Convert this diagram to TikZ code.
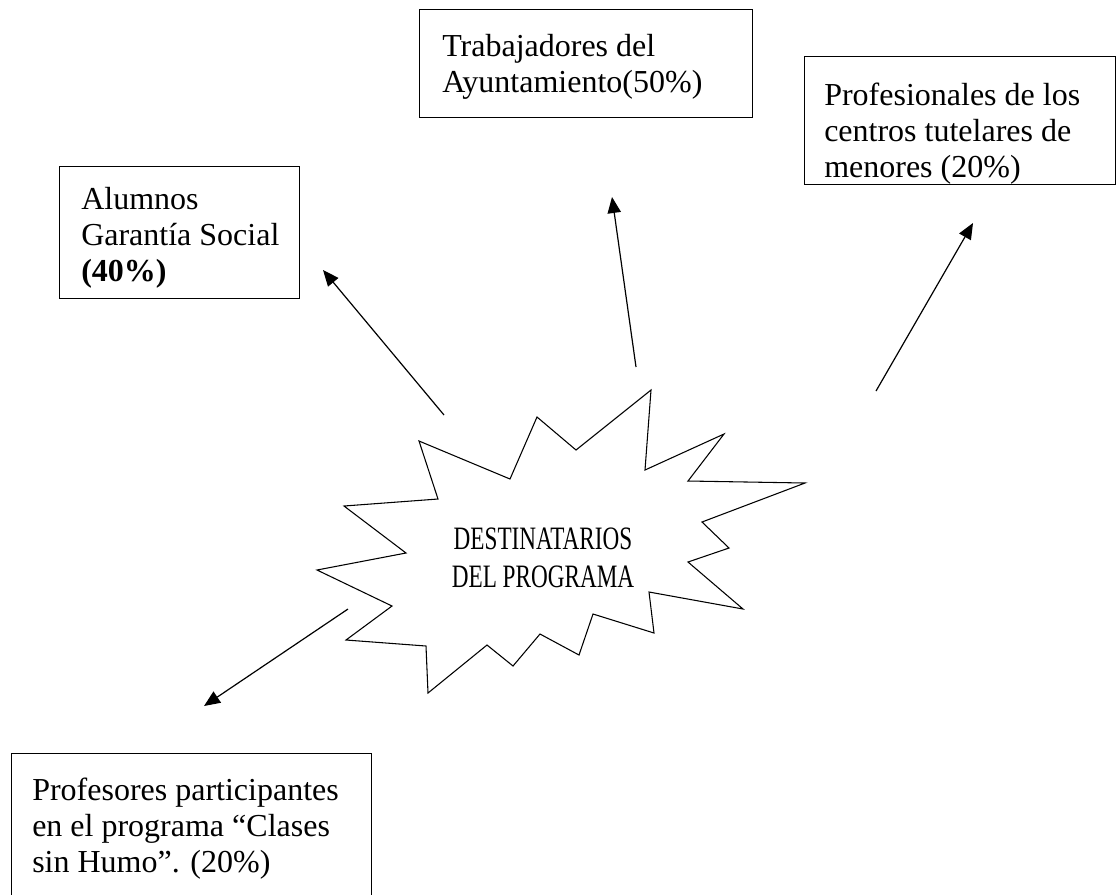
\documentclass[tikz,border=0pt]{standalone}
\usepackage{fontspec}
\setmainfont{Liberation Serif}
\newfontfamily\estrecha[FakeStretch=0.71]{Liberation Serif}
\usetikzlibrary{arrows.meta, calc, positioning}

\tikzset{
  caja/.style={draw, line width=0.8pt, rectangle, anchor=north west, inner sep=0pt},
  texto/.style={align=left, anchor=north west, inner sep=0pt, font=\fontsize{24}{27}\selectfont},
  lema/.style={align=center, inner sep=0pt, font=\estrecha\fontsize{24.5}{28.5}\selectfont},
  estrella/.style={draw, line width=0.8pt, line join=miter},
  flecha/.style={line width=0.9pt, -{Triangle[length=12pt, width=10pt]}}
}

\begin{document}
\begin{tikzpicture}[x=0.75pt, y=-0.75pt]
\useasboundingbox (0,0) rectangle (1119,894);
\clip (0,0) rectangle (1119,894);

% cajas de destinatarios
\node[caja, minimum width=180pt, minimum height=99pt] (alumnos) at (59,166) {};
\node[caja, minimum width=249.75pt, minimum height=81pt] (trabajadores) at (419,9) {};
\node[caja, minimum width=233.25pt, minimum height=96pt] (tutelares) at (804,56) {};
\node[caja, minimum width=270pt, minimum height=130pt] (profesores) at (11,753) {};

% textos de las cajas
\node[texto] (alumnostxt) at ($(alumnos.north west)+(22,21)$)
  {Alumnos\\Garantía Social\\\textbf{(40\%)}};
\node[texto] (trabajadorestxt) at ($(trabajadores.north west)+(23,25)$)
  {Trabajadores del\\Ayuntamiento(50\%)};
\node[texto] (tutelarestxt) at ($(tutelares.north west)+(20,27)$)
  {Profesionales de los\\centros tutelares de\\menores (20\%)};
\node[texto] (profesorestxt) at ($(profesores.north west)+(21,25)$)
  {Profesores participantes\\en el programa “Clases\\sin Humo”. (20\%)};

% explosion central
\draw[estrella] (419,441) -- (510,479) -- (537,417) -- (576,450) -- (651,390)
  -- (645,470) -- (724,434) -- (688,481) -- (805,483) -- (702,522)
  -- (729,548) -- (688,562) -- (743,609) -- (649,592) -- (654,633)
  -- (593,614) -- (579,655) -- (540,634) -- (513,666) -- (487,645)
  -- (428,693) -- (426,646) -- (346,640) -- (392,606) -- (317,570)
  -- (406,553) -- (344,506) -- (438,499) -- cycle;
\node[lema] (programa) at (543,558) {DESTINATARIOS\\DEL PROGRAMA};

% flechas hacia cada grupo
\coordinate (s1) at (444,415);
\coordinate (s2) at (636,367);
\coordinate (s3) at (876,391);
\coordinate (s4) at (348,609);
\coordinate (p1) at (323,270);
\coordinate (p2) at (612,197);
\coordinate (p3) at (973,223);
\coordinate (p4) at (204,706);
\draw[flecha] (s1) -- (p1);
\draw[flecha] (s2) -- (p2);
\draw[flecha] (s3) -- (p3);
\draw[flecha] (s4) -- (p4);
\end{tikzpicture}
\end{document}
